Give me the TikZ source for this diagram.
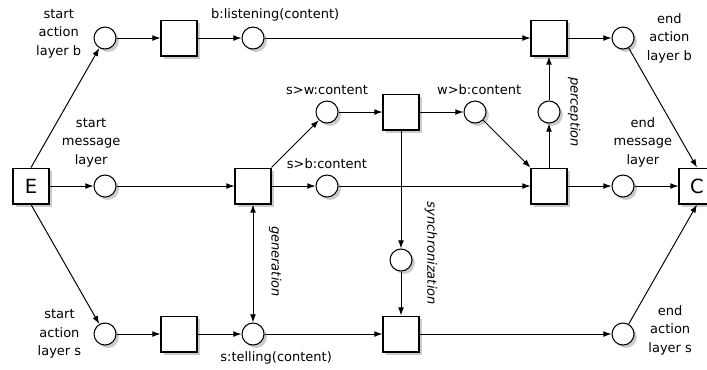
\documentclass[tikz,border=0pt]{standalone}
\usepackage{fontspec}
\setmainfont{DejaVu Sans}
\usepackage{tikz}
\usetikzlibrary{arrows.meta}
\usetikzlibrary{shadows}

\tikzset{
  shade/.style={drop shadow={shadow xshift=1.8pt, shadow yshift=-1.8pt, fill=black!20, opacity=1}},
  circ/.style={circle, draw, line width=0.65pt, fill=white, minimum size=0.476cm, inner sep=0pt, shade},
  trans/.style={rectangle, draw, line width=0.65pt, fill=white, minimum size=0.778cm, inner sep=0pt, shade},
  lbl/.style={font=\fontsize{8}{11.4}\selectfont, align=center},
  vlbl/.style={font=\fontsize{8}{11.4}\selectfont\itshape, rotate=-90},
  arc/.style={line width=0.6pt, -{Latex[length=5pt,width=3.6pt]}},
  dblarc/.style={line width=0.6pt, {Latex[length=5pt,width=3.6pt]}-{Latex[length=5pt,width=3.6pt]}}
}

\begin{document}
\begin{tikzpicture}[x=1.6cm, y=-1.6cm]
            \useasboundingbox (-0.419,-0.514) rectangle (9.135,4.473);

            \node[trans, font=\fontsize{12}{14}\selectfont] (E) at (0,2) {E};
            \node[trans, font=\fontsize{12}{14}\selectfont] (C) at (9,2) {C};

            % action layer b
            \node[circ, label={[lbl, label distance=4pt, yshift=0.1cm]left:{start\\action\\layer b}}] (sab) at (1,0) {};
            \node[trans] (tb) at (2,0) {};
            \node[circ, label={[lbl, xshift=0.48cm]above:{b:listening(content)}}] (listen) at (3,0) {};
            \node[trans] (perc) at (7,0) {};
            \node[circ, label={[lbl, label distance=4pt]right:{end\\action\\layer b}}] (eab) at (8,0) {};

            % message layer
            \node[circ, label={[lbl]above:{s>w:content}}] (sw) at (4,1) {};
            \node[trans] (sync) at (5,1) {};
            \node[circ, label={[lbl, xshift=0.09cm]above:{w>b:content}}] (wb) at (6,1) {};
            \node[circ] (pc) at (7,1) {};
            \node[circ, label={[lbl, label distance=1pt, xshift=-0.3cm]above:{start\\message\\layer}}] (sml) at (1,2) {};
            \node[trans] (gen) at (3,2) {};
            \node[circ, label={[lbl]above:{s>b:content}}] (sb) at (4,2) {};
            \node[trans] (recv) at (7,2) {};
            \node[circ, label={[lbl, label distance=1pt, xshift=0.43cm]above:{end\\message\\layer}}] (eml) at (8,2) {};
            \node[circ] (syc) at (5,3) {};

            % action layer s
            \node[circ, label={[lbl, label distance=4pt]left:{start\\action\\layer s}}] (sas) at (1,4) {};
            \node[trans] (ts) at (2,4) {};
            \node[circ, label={[lbl, xshift=0.5cm]below:{s:telling(content)}}] (tell) at (3,4) {};
            \node[trans] (join) at (5,4) {};
            \node[circ, label={[lbl, label distance=5pt, yshift=0.08cm]right:{end\\action\\layer s}}] (eas) at (8,4) {};

            \node[vlbl] (perception) at (7.34,1) {perception};
            \node[vlbl] (generation) at (3.3,3.02) {generation};
            \node[vlbl] (synchronization) at (5.405,2.91) {synchronization};

            \draw[arc] (E.north) -- (sab);
            \draw[arc] (sab) -- (tb);
            \draw[arc] (tb) -- (listen);
            \draw[arc] (listen) -- (perc);
            \draw[arc] (perc) -- (eab);
            \draw[arc] (eab) -- (C.north);

            \draw[arc] (E) -- (sml);
            \draw[arc] (sml) -- (gen);
            \draw[arc] (gen.north east) -- (sw);
            \draw[arc] (gen) -- (sb);
            \draw[arc] (sb) -- (recv);
            \draw[arc] (sw) -- (sync);
            \draw[arc] (sync) -- (wb);
            \draw[arc] (wb) -- (recv.north west);
            \draw[arc] (recv) -- (pc);
            \draw[arc] (pc) -- (perc);
            \draw[arc] (recv) -- (eml);
            \draw[arc] (eml) -- (C);

            \draw[dblarc] (gen) -- (tell);
            \draw[arc] (sync) -- (syc);
            \draw[arc] (syc) -- (join);

            \draw[arc] (E.south) -- (sas);
            \draw[arc] (sas) -- (ts);
            \draw[arc] (ts) -- (tell);
            \draw[arc] (tell) -- (join);
            \draw[arc] (join) -- (eas);
            \draw[arc] (eas) -- (C.south);
\end{tikzpicture}
\end{document}
